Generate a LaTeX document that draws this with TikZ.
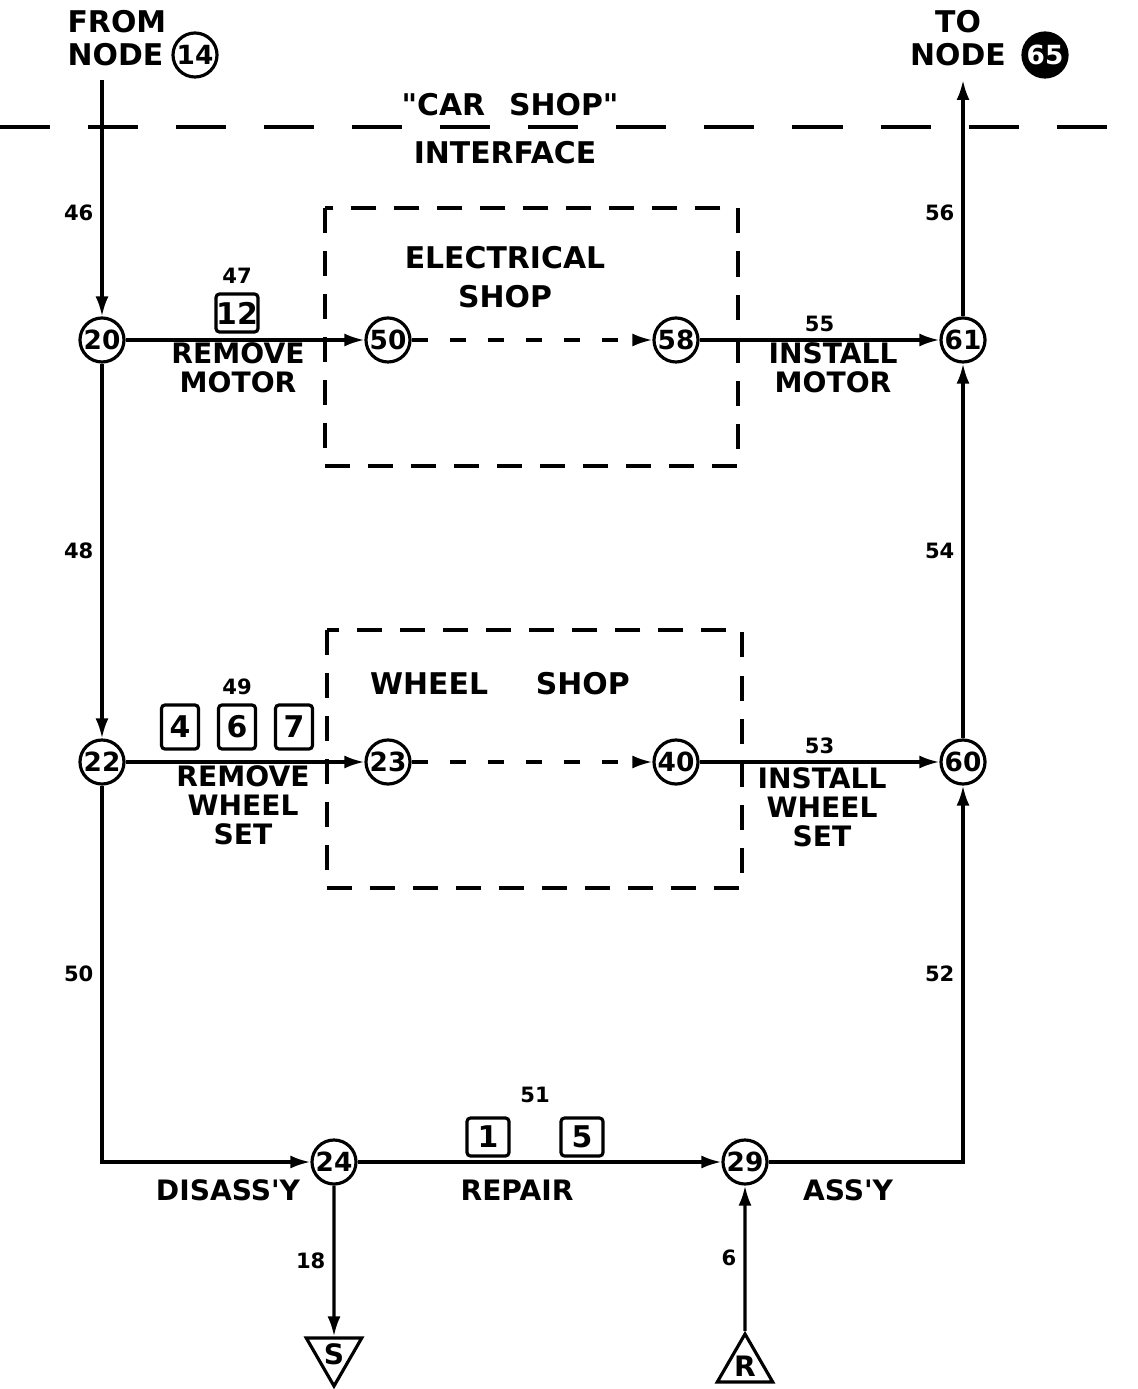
\documentclass[tikz,border=0pt]{standalone}
\usepackage{fontspec}
\newfontfamily\drawfont{DejaVu Sans}
\usetikzlibrary{shapes.geometric, arrows.meta, positioning, calc}

\tikzset{
  evt/.style={circle, draw, inner sep=0pt, minimum size=0.44cm, font=\drawfont\fontsize{7.5}{8}\selectfont\bfseries},
  crew/.style={rectangle, draw, rounded corners=1pt, inner sep=0pt, minimum width=0.42cm, minimum height=0.38cm, font=\drawfont\fontsize{8.5}{9}\selectfont\bfseries},
  tag/.style={font=\drawfont\fontsize{6}{6}\selectfont\bfseries, inner sep=2pt},
  act/.style={font=\drawfont\fontsize{8}{8.3}\selectfont\bfseries, align=center, inner sep=0pt},
  shoptitle/.style={font=\drawfont\fontsize{8.5}{11.3}\selectfont\bfseries, align=center, inner sep=0pt},
  shopbox/.style={draw, dash pattern=on 0.25cm off 0.18cm},
  sink/.style={regular polygon, regular polygon sides=3, shape border rotate=180, draw, inner sep=0pt, minimum size=0.64cm, font=\drawfont\fontsize{8}{8}\selectfont\bfseries},
  source/.style={regular polygon, regular polygon sides=3, draw, inner sep=0pt, minimum size=0.64cm, font=\drawfont\fontsize{8}{8}\selectfont\bfseries},
}

\begin{document}
\begin{tikzpicture}[x=0.01cm, y=-0.01cm, line width=0.9pt, >={Latex[length=2mm, width=1.3mm]}]
    \useasboundingbox (0,0) rectangle (1137,1389);

    % Define nodes
    \node [evt] (n20) at (102,340) {20};
    \node [evt] (n50) at (388,340) {50};
    \node [evt] (n58) at (676,340) {58};
    \node [evt] (n61) at (963,340) {61};
    \node [evt] (n22) at (102,762) {22};
    \node [evt] (n23) at (388,762) {23};
    \node [evt] (n40) at (676,762) {40};
    \node [evt] (n60) at (963,762) {60};
    \node [evt] (n24) at (334,1162) {24};
    \node [evt] (n29) at (745,1162) {29};
    \node [sink] (sink) at (334,1354) {S};
    \node [source] (src) at (745,1366) {R};
    \coordinate (in) at (102,80);
    \coordinate (out) at (963,80);

    % Interface and shops
    \node [act, anchor=west, align=left, font=\drawfont\fontsize{8.5}{9.4}\selectfont\bfseries] (from) at (66,38) {FROM\\NODE};
    \node [evt] (n14) at (195,55) {14};
    \node [act, font=\drawfont\fontsize{8.5}{9.4}\selectfont\bfseries] (to) at (958,38) {TO\\NODE};
    \node [evt, fill=black, text=white] (n65) at (1045,55) {65};
    \draw [dash pattern=on 0.5cm off 0.38cm] (0,127) -- (1137,127);
    \node [shoptitle] (carshop) at (510,105) {"CAR\hspace{0.8em}SHOP"};
    \node [shoptitle] (iface) at (505,153) {INTERFACE};
    \draw [shopbox] (325,208) rectangle (738,466);
    \draw [shopbox] (327,630) rectangle (742,888);
    \node [shoptitle] (elec) at (505,277) {ELECTRICAL\\SHOP};
    \node [shoptitle] (wheel) at (500,684) {WHEEL\hspace{1.6em}SHOP};

    % Crews and activity names
    \node [crew] (c12) at (237,313) {12};
    \node [tag, above=0pt of c12] (l47) {47};
    \node [act] (rmmotor) at (238,368) {REMOVE\\MOTOR};
    \node [crew, minimum width=0.37cm, minimum height=0.44cm] (c4) at (180,727) {4};
    \node [crew, minimum width=0.37cm, minimum height=0.44cm] (c6) at (237,727) {6};
    \node [crew, minimum width=0.37cm, minimum height=0.44cm] (c7) at (294,727) {7};
    \node [tag, above=0pt of c6] (l49) {49};
    \node [act] (rmwheel) at (243,805) {REMOVE\\WHEEL\\SET};
    \node [act] (inmotor) at (833,368) {INSTALL\\MOTOR};
    \node [act] (inwheel) at (822,807) {INSTALL\\WHEEL\\SET};
    \node [crew] (c1) at (488,1137) {1};
    \node [crew] (c5) at (582,1137) {5};
    \node [tag] (l51) at (535,1095) {51};
    \node [act] (disassy) at (228,1190) {DISASS'Y};
    \node [act] (repair) at (517,1190) {REPAIR};
    \node [act] (assy) at (848,1190) {ASS'Y};

    % Draw arrows and labels
    \draw [->] (in) -- (n20) node[tag, pos=0.56, left] {46};
    \draw [->] (n20) -- (n22) node[tag, midway, left] {48};
    \draw [->] (n22) |- (n24) node[tag, pos=0.25, left] {50};
    \draw [->] (n24) -- (n29);
    \draw [->] (n29) -| (n60) node[tag, pos=0.75, left] {52};
    \draw [->] (n60) -- (n61) node[tag, midway, left] {54};
    \draw [->] (n61) -- (out) node[tag, pos=0.44, left] {56};
    \draw [->] (n20) -- (n50);
    \draw [->, dash pattern=on 0.16cm off 0.22cm] (n50) -- (n58);
    \draw [->] (n58) -- (n61) node[tag, midway, above] {55};
    \draw [->] (n22) -- (n23);
    \draw [->, dash pattern=on 0.16cm off 0.22cm] (n23) -- (n40);
    \draw [->] (n40) -- (n60) node[tag, midway, above] {53};
    \draw [->] (n24) -- (sink) node[tag, midway, left] {18};
    \draw [->] (src) -- (n29) node[tag, midway, left] {6};
\end{tikzpicture}
\end{document}
